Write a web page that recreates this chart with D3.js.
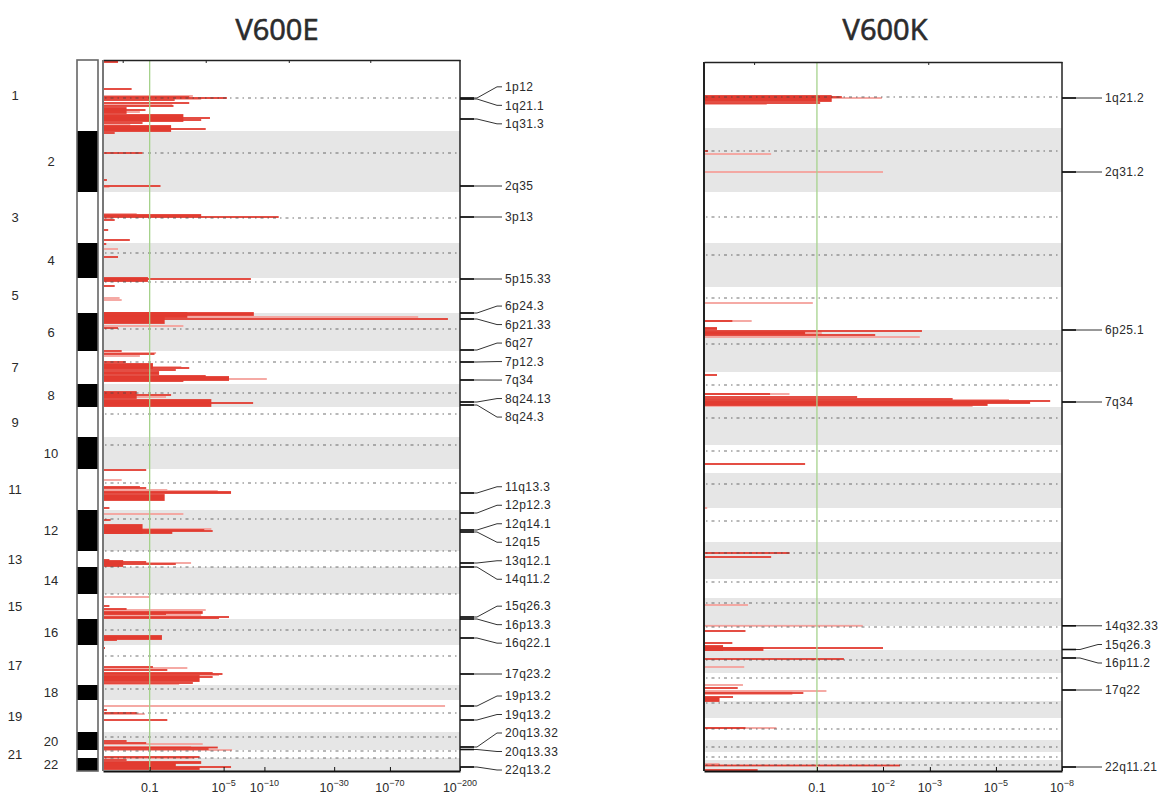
<!DOCTYPE html>
<html>
<head>
<meta charset="utf-8">
<script src="https://cdn.jsdelivr.net/npm/d3@7"></script>
<style>
  body { margin: 0; background: #fff; }
  svg { display: block; }
  text { font-family: "Liberation Sans", Arial, sans-serif; fill: #2a2a2a; }
  .title { font-family: "Open Sans", "DejaVu Sans", sans-serif; font-weight: 400; stroke: #333; stroke-width: 0.7px; }
</style>
</head>
<body>
<svg id="chart" width="1171" height="799"></svg>
<script>
// ---------------------------------------------------------------
// Genome-wide association profiles, BRAF V600E vs V600K
// x: -log10(p) on a log(1 + x) axis, y: autosomes 1..22 stacked
// ---------------------------------------------------------------
const chromosomes = d3.range(1, 23);

// marker-bin extent of each chromosome and centromere offset (V600E set)
const sizeE   = [71, 61, 51, 35, 35, 38, 33, 23, 30, 32, 41, 41, 16, 27, 25, 26, 40, 15, 32, 18, 8, 13];
const centroE = [38, 22, 26, 10, 4, 16, 11, 9, 7, 8, 14, 9, 0, 0, 0, 11, 11, 4, 13, 5, 1, 0];

// marker-bin extent of each chromosome and centromere offset (V600K set)
const sizeK   = [66, 64, 51, 44, 43, 42, 35, 38, 28, 35, 34, 37, 19, 28, 24, 23, 28, 17, 22, 12, 8, 11];
const centroK = [35, 23, 25, 12, 11, 14, 13, 11, 6, 11, 13, 11, 3, 5, 1, 10, 5, 2, 11, 7, 5, 5];

// association runs: [chromosome, first bin, last bin, -log10(p), strong (1) / weak (0)]
const hitsE = [
  [1,1,2,0.25,1],[1,29,29,0.53,1],[1,36,36,2.8,0],[1,37,37,2.6,1],[1,38,38,5.3,1],
  [1,39,39,3.3,0],[1,40,40,1.9,1],[1,43,43,2.6,1],[1,45,45,1.8,0],[1,46,46,1.85,1],
  [1,48,53,0.42,1],[1,50,50,0.88,1],[1,52,52,0.73,0],[1,55,61,2.3,1],[1,58,58,3.9,1],
  [1,60,60,3.3,1],[1,63,63,0.8,1],[1,65,65,0.5,0],[1,66,71,1.75,1],[1,69,69,3.6,1],
  [2,2,2,0.19,1],[2,22,22,0.8,1],[2,49,49,0.06,1],[2,55,55,1.35,1],[2,56,56,0.1,0],
  [3,22,22,0.65,0],[3,23,24,3.3,1],[3,25,25,12.6,1],[3,27,27,0.15,0],[3,28,28,0.19,1],
  [3,38,38,0.08,1],[3,48,48,0.49,1],
  [4,1,1,0.05,1],[4,6,6,0.25,0],[4,14,14,0.25,1],
  [5,0,3,0.95,1],[5,1,1,8.0,1],[5,8,8,0.19,1],[5,20,20,0.28,0],[5,22,22,0.32,0],
  [6,0,4,2.5,1],[6,0,2,8.4,1],[6,4,4,107,0],[6,6,6,167,1],[6,4,10,1.5,1],
  [6,13,13,2.3,0],[6,15,15,0.25,1],
  [7,0,0,0.32,1],[7,2,2,1.2,0],[7,3,3,1.15,1],[7,5,5,0.73,0],[7,11,11,0.4,1],
  [7,13,17,1.1,1],[7,16,16,2.2,0],[7,17,17,2.6,1],[7,19,19,1.95,1],[7,21,23,1.3,1],
  [7,25,26,3.6,1],[7,26,29,5.5,1],[7,28,28,10.4,0],[7,30,30,2.3,1],
  [8,8,14,0.65,1],[8,11,11,1.75,1],[8,13,13,1.55,0],[8,16,22,4.0,1],[8,19,19,8.3,1],
  [11,1,1,0.9,1],[11,11,11,0.32,0],[11,18,18,0.73,1],[11,19,19,0.9,1],[11,21,21,1.6,0],
  [11,22,22,4.5,0],[11,23,24,5.7,1],[11,26,31,1.5,1],[11,39,39,0.1,1],
  [12,4,4,2.3,0],[12,10,10,0.12,1],[12,15,23,0.8,1],[12,19,19,4.0,0],[12,20,20,3.5,1],
  [12,21,21,4.1,1],[12,22,23,1.8,1],
  [13,9,9,0.1,1],[13,10,15,0.35,1],[13,11,11,0.9,1],[13,12,12,2.7,0],[13,13,13,1.95,1],
  [15,3,3,1.0,0],[15,12,12,0.1,1],[15,15,15,0.42,1],[15,16,16,3.6,0],[15,18,19,3.4,1],
  [15,20,20,1.55,1],[15,21,21,3.3,0],[15,23,23,5.5,1],[15,24,24,4.6,1],
  [16,17,20,1.4,1],[16,19,21,0.23,1],
  [17,3,3,0.03,1],[17,22,22,1.1,1],[17,23,23,2.5,0],[17,25,25,1.6,1],[17,28,28,4.1,1],
  [17,29,29,4.9,1],[17,30,30,4.6,0],[17,31,36,3.2,1],[17,32,32,4.1,1],[17,38,38,2.8,1],
  [17,39,39,2.1,0],
  [19,6,6,160,0],[19,10,10,0.06,1],[19,13,13,0.65,1],[19,14,14,0.86,0],[19,20,20,1.6,1],
  [20,9,9,0.42,1],[20,11,11,0.9,1],[20,12,12,3.4,0],[20,15,15,2.7,0],[20,15.5,15.5,4.5,1],
  [20,17,17,3.8,1],[20,18,18,5.8,0],
  [21,7,7,3.2,1],
  [22,0,0,2.9,0],[22,2,2,0.42,1],[22,4,5,3.3,1],[22,5,8,1.95,1],[22,9,9,5.7,1],[22,10,11,3.2,1]
];

const hitsK = [
  [1,34,39,1.19,1],[1,35,35,1.33,1],[1,36,36,1.98,0],[1,41,41,1.04,1],[1,42,42,0.47,0],
  [2,23,23,0.025,1],[2,26,26,0.51,0],[2,44,44,2.0,0],
  [5,16,16,0.95,0],[5,34,34,0.34,0],[5,34,34,0.19,1],[5,41,42,0.083,1],
  [6,1,1,2.81,1],[6,2,4,1.06,0],[6,2.5,3.5,0.86,1],[6,5,5,1.86,1],[6,7,7,2.76,0],
  [7,3,3,0.083,1],[7,22,22,0.69,0],[7,22,22,0.5,1],[7,25,25,1.56,1],[7,27,27,3.6,1],
  [7,28,28,5.5,0],[7,29,29,7.37,1],[7,30,31,6.4,1],[7,32,33,4.7,1],[7,34,34,4.2,0],
  [9,19,19,0.86,1],
  [11,0,0,0.02,0],
  [12,11,11,0.69,1],[12,15,15,0.51,1],
  [14,7,7,0.31,0],[14,27.8,27.8,1.65,0],
  [15,5,5,0.29,1],[15,17,17,0.19,1],[15,20,24,0.124,1],[15,22,24,0.44,1],[15,22,22,2.0,1],
  [16,9,9,1.36,1],[16,17,17,0.28,0],
  [17,12,12,0.27,0],[17,15,15,0.23,1],[17,18,18,1.12,0],[17,19,21,0.72,0],[17,20,20,0.84,1],
  [17,24,24,0.195,1],[17,25,28,0.10,1],
  [19,10,10,0.56,0],[19,10,10,0.29,1],
  [22,4,4,0.1,0],[22,5.5,5.5,2.33,1],[22,10,10,0.39,1]
];

// cytoband annotations: [band, chromosome, bin]
const cytoE = [
  ["1p12",1,38],["1q21.1",1,39],["1q31.3",1,59],["2q35",2,55],["3p13",3,25],
  ["5p15.33",5,1],["6p24.3",6,0],["6p21.33",6,6],["6q27",6,37],["7p12.3",7,11],
  ["7q34",7,29],["8q24.13",8,18],["8q24.3",8,21],["11q13.3",11,24],["12p12.3",12,3],
  ["12q14.1",12,20],["12q15",12,22],["13q12.1",13,12],["14q11.2",14,0],["15q26.3",15,23],
  ["16p13.3",16,0],["16q22.1",16,19],["17q23.2",17,29],["19p13.2",19,6],["19q13.2",19,20],
  ["20q13.32",20,15],["20q13.33",20,17.5],["22q13.2",22,9]
];
const cytoK = [
  ["1q21.2",1,36],["2q31.2",2,44],["6p25.1",6,0],["7q34",7,30],["14q32.33",14,27.8],
  ["15q26.3",15,23.5],["16p11.2",16,8],["17q22",17,17],["22q11.21",22,7]
];

// axis ticks (-log10 p) and their labels
const ticksE    = [1, 5, 10, 30, 70, 200];
const tickBaseE = ["0.1", "10", "10", "10", "10", "10"];
const tickExpE  = ["", "−5", "−10", "−30", "−70", "−200"];
const topTicksE = [0.34, 3.6, 14.8, 52];

const ticksK    = [1, 2, 3, 5, 8];
const tickBaseK = ["0.1", "10", "10", "10", "10"];
const tickExpK  = ["", "−2", "−3", "−5", "−8"];
const topTicksK = [0.36, 2.96];

const THRESHOLD = 1; // p = 0.1

const svg = d3.select("#chart");
const STRONG = "#e23b30", WEAK = "#f4a19c";

// push overlapping label positions apart (clusters centred on their anchors)
function spreadLabels(targets, gap, maxY) {
  const groups = [];
  targets.forEach((t, i) => {
    groups.push({ n: 1, sum: t, idx: [i] });
    const pos = g => Math.min(g.sum / g.n, maxY - (g.n - 1) * gap);
    while (groups.length > 1) {
      const b = groups[groups.length - 1], a = groups[groups.length - 2];
      if (pos(a) + a.n * gap > pos(b)) {
        a.sum += b.sum - b.n * a.n * gap;
        a.n += b.n;
        a.idx = a.idx.concat(b.idx);
        groups.pop();
      } else break;
    }
  });
  const out = new Array(targets.length);
  groups.forEach(g => {
    const start = Math.min(g.sum / g.n, maxY - (g.n - 1) * gap);
    g.idx.forEach((i, k) => { out[i] = start + k * gap; });
  });
  return out;
}

function drawPanel(cfg) {
  const g = svg.append("g");
  const offsets = [0, ...d3.cumsum(cfg.sizes)];
  const total = offsets[offsets.length - 1];
  const y = d3.scaleLinear().domain([0, total]).range([cfg.top, cfg.bottom]);
  const x = d3.scaleSymlog().constant(1).domain([0, cfg.max]).range([cfg.left, cfg.right]);
  const gy = (c, p) => y(offsets[c - 1] + p);

  // alternating chromosome bands
  g.append("g").selectAll("rect")
    .data(chromosomes.filter(c => c % 2 === 0))
    .join("rect")
    .attr("x", cfg.left).attr("width", cfg.right - cfg.left)
    .attr("y", c => gy(c, 0))
    .attr("height", c => gy(c, cfg.sizes[c - 1]) - gy(c, 0))
    .attr("fill", "#e6e6e6");

  // association runs, weak first then strong
  const hits = cfg.hits.slice().sort((a, b) => a[4] - b[4]);
  g.append("g").selectAll("rect")
    .data(hits)
    .join("rect")
    .attr("x", cfg.left)
    .attr("width", d => x(d[3]) - cfg.left)
    .attr("y", d => gy(d[0], d[1]) - 0.9)
    .attr("height", d => gy(d[0], d[2]) - gy(d[0], d[1]) + 1.8)
    .attr("fill", d => d[4] ? STRONG : WEAK);

  // centromere guides
  g.append("g").selectAll("line")
    .data(chromosomes)
    .join("line")
    .attr("x1", cfg.left + 2).attr("x2", cfg.right - 2)
    .attr("y1", c => gy(c, cfg.centro[c - 1]))
    .attr("y2", c => gy(c, cfg.centro[c - 1]))
    .attr("stroke", "#444").attr("stroke-width", 1.2)
    .attr("stroke-opacity", 0.75)
    .attr("stroke-dasharray", "1.5,4,3,4");

  // significance threshold
  g.append("line")
    .attr("x1", x(THRESHOLD)).attr("x2", x(THRESHOLD))
    .attr("y1", cfg.top).attr("y2", cfg.bottom)
    .attr("stroke", "#a6d28c").attr("stroke-width", 1.3);

  // frame
  const bottomAxis = d3.axisBottom(x).tickValues(cfg.ticks).tickSize(-4).tickSizeOuter(0).tickFormat("");
  const ax = g.append("g").attr("transform", `translate(0,${cfg.bottom})`).call(bottomAxis);
  ax.select(".domain").attr("stroke", "#111").attr("stroke-width", 2);
  ax.selectAll(".tick line").attr("stroke", "#111");

  const topAxis = d3.axisTop(x).tickValues(cfg.topTicks).tickSize(-3).tickSizeOuter(0).tickFormat("");
  const tx = g.append("g").attr("transform", `translate(0,${cfg.top})`).call(topAxis);
  tx.select(".domain").attr("stroke", "#222").attr("stroke-width", 1.5);
  tx.selectAll(".tick line").attr("stroke", "#222");

  g.append("line")
    .attr("x1", cfg.left).attr("x2", cfg.left)
    .attr("y1", cfg.top).attr("y2", cfg.bottom)
    .attr("stroke", cfg.leftSpine).attr("stroke-width", 2);
  g.append("line")
    .attr("x1", cfg.right).attr("x2", cfg.right)
    .attr("y1", cfg.top).attr("y2", cfg.bottom)
    .attr("stroke", "#222").attr("stroke-width", 1.5);

  // tick labels with exponents
  const lab = g.append("g").selectAll("text")
    .data(cfg.ticks)
    .join("text")
    .attr("x", v => x(v))
    .attr("y", cfg.bottom + 21)
    .attr("text-anchor", "middle")
    .attr("font-size", 12.5);
  lab.append("tspan").text((v, i) => cfg.tickBase[i]);
  lab.append("tspan")
    .attr("dy", -6).attr("font-size", 9)
    .text((v, i) => cfg.tickExp[i]);

  // cytoband annotations
  const anchors = cfg.cyto.map(d => gy(d[1], d[2]));
  const labelY = spreadLabels(anchors, 18.5, cfg.bottom - 1);
  const notes = g.append("g").selectAll("g")
    .data(cfg.cyto)
    .join("g");
  notes.append("path")
    .attr("d", (d, i) => {
      const a = anchors[i], b = labelY[i];
      return `M${cfg.right},${a}H${cfg.right + cfg.lead[0]}L${cfg.right + cfg.lead[1]},${b}H${cfg.right + cfg.lead[2]}`;
    })
    .attr("fill", "none").attr("stroke", "#333").attr("stroke-width", 1);
  notes.append("line")
    .attr("x1", cfg.right).attr("x2", cfg.right + 14)
    .attr("y1", (d, i) => anchors[i]).attr("y2", (d, i) => anchors[i])
    .attr("stroke", "#111").attr("stroke-width", 1.6);
  notes.append("text")
    .attr("x", cfg.right + cfg.lead[2] + 3)
    .attr("y", (d, i) => labelY[i])
    .attr("dy", "0.35em")
    .attr("font-size", 12)
    .attr("letter-spacing", 0.4)
    .text(d => d[0]);

  // panel title
  svg.append("text").attr("class", "title")
    .attr("x", cfg.titleX).attr("y", 40)
    .attr("text-anchor", "middle")
    .attr("font-size", 29)
    .attr("fill", "#333")
    .text(cfg.title);

  return { y, offsets, gy };
}

const left = drawPanel({
  title: "V600E", titleX: 277,
  sizes: sizeE, centro: centroE, hits: hitsE, cyto: cytoE,
  ticks: ticksE, tickBase: tickBaseE, tickExp: tickExpE, topTicks: topTicksE,
  max: 200, left: 103, right: 460, top: 60, bottom: 771,
  lead: [17, 37, 42], leftSpine: "#777"
});

drawPanel({
  title: "V600K", titleX: 885,
  sizes: sizeK, centro: centroK, hits: hitsK, cyto: cytoK,
  ticks: ticksK, tickBase: tickBaseK, tickExp: tickExpK, topTicks: topTicksK,
  max: 8, left: 704, right: 1062, top: 62, bottom: 771,
  lead: [18, 36, 40], leftSpine: "#222"
});

// chromosome ideogram beside the V600E panel
const ideo = svg.append("g");
ideo.selectAll("rect")
  .data(chromosomes)
  .join("rect")
  .attr("x", 77).attr("width", 21)
  .attr("y", c => left.gy(c, 0))
  .attr("height", c => left.gy(c, sizeE[c - 1]) - left.gy(c, 0))
  .attr("fill", c => c % 2 === 0 ? "#000" : "#fff");
ideo.append("rect")
  .attr("x", 77).attr("width", 21)
  .attr("y", left.gy(1, 0)).attr("height", left.gy(22, sizeE[21]) - left.gy(1, 0))
  .attr("fill", "none").attr("stroke", "#666").attr("stroke-width", 1.6);

ideo.selectAll("text")
  .data(chromosomes)
  .join("text")
  .attr("x", c => c % 2 ? 15 : 51)
  .attr("y", c => (left.gy(c, 0) + left.gy(c, sizeE[c - 1])) / 2)
  .attr("dy", "0.35em")
  .attr("text-anchor", "middle")
  .attr("font-size", 13)
  .attr("fill", "#333")
  .text(c => c);
</script>
</body>
</html>
